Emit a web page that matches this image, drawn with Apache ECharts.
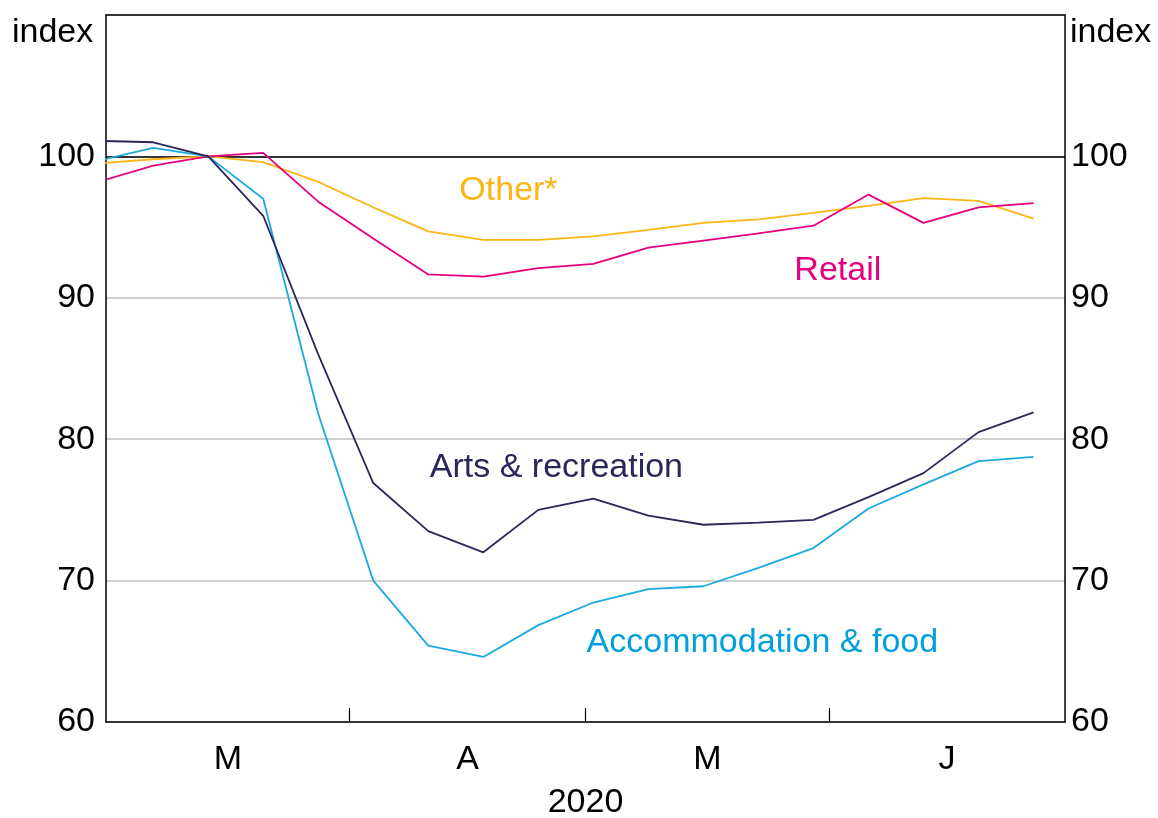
<!DOCTYPE HTML>
<html>
<head>
    <meta http-equiv="content-type" content="text/html;charset=utf-8">
    <script src="https://cdn.jsdelivr.net/npm/echarts@6/dist/echarts.min.js"></script>
    <title>Spending by industry</title>
    <style>
        html, body { margin: 0; padding: 0; background: #fff; }
        #main { width: 1158px; height: 818px; }
    </style>
</head>
<body>
<div id="main"></div>
<script>
    // weekly observations (week ending Saturday), index = 100 at 14 March
    var weeks = ['2020-02-29', '2020-03-07', '2020-03-14', '2020-03-21', '2020-03-28', '2020-04-04',
        '2020-04-11', '2020-04-18', '2020-04-25', '2020-05-02', '2020-05-09', '2020-05-16',
        '2020-05-23', '2020-05-30', '2020-06-06', '2020-06-13', '2020-06-20', '2020-06-27'];

    var arts   = [101.1, 101.0, 100, 95.8, 86.0, 76.9, 73.5, 72.0, 75.0, 75.8, 74.6, 73.95, 74.1, 74.3, 75.9, 77.6, 80.5, 81.9];
    var accom  = [99.7, 100.6, 100, 97.0, 81.8, 70.0, 65.4, 64.6, 66.85, 68.45, 69.4, 69.6, 70.9, 72.3, 75.1, 76.8, 78.45, 78.75];
    var retail = [98.2, 99.35, 100, 100.25, 96.8, 94.2, 91.65, 91.5, 92.1, 92.4, 93.55, 94.05, 94.55, 95.1, 97.3, 95.3, 96.4, 96.7];
    var other  = [99.5, 99.8, 100, 99.6, 98.2, 96.4, 94.7, 94.1, 94.1, 94.35, 94.8, 95.3, 95.55, 96.0, 96.5, 97.05, 96.85, 95.6];

    // x axis: days since 1 March 2020
    var monthStarts = [31, 61, 92];           // 1 Apr, 1 May, 1 Jun
    var monthMids = [15.5, 46, 76.5, 107];
    var monthLetters = ['M', 'A', 'M', 'J'];
    var yTicks = [60, 70, 80, 90, 100];

    // series labels, placed in data coordinates [day, index]
    var seriesLabels = [
        {text: 'Other*', at: [51.2, 97.6], color: '#FDB515'},
        {text: 'Retail', at: [93.1, 91.9], color: '#E6007E'},
        {text: 'Arts & recreation', at: [57.3, 78.0], color: '#2A2759'},
        {text: 'Accommodation & food', at: [83.5, 65.6], color: '#00A0DF'}
    ];

    var FONT = '"Liberation Sans", Arial, sans-serif';
    var FS = 34;
    var t0 = Date.UTC(2020, 2, 1);

    function toDay(s) {
        var p = s.split('-');
        return (Date.UTC(+p[0], +p[1] - 1, +p[2]) - t0) / 86400000;
    }

    function pairs(vals) {
        var out = [];
        for (var i = 0; i < weeks.length; i++) {
            out.push([toDay(weeks[i]), vals[i]]);
        }
        return out;
    }

    function yAxisCfg(pos) {
        return {
            type: 'value',
            position: pos,
            min: 60,
            max: 110,
            interval: 10,
            axisLine: {show: true, onZero: false, lineStyle: {color: '#000', width: 1.5}},
            axisTick: {show: false},
            splitLine: {show: pos === 'left', lineStyle: {color: '#c0c0c0', width: 1.5}},
            axisLabel: {
                margin: pos === 'left' ? 11 : 6,
                color: '#000',
                fontSize: FS,
                fontFamily: FONT,
                formatter: function (v) { return yTicks.indexOf(v) >= 0 ? String(v) : ''; }
            }
        };
    }

    function lineSeries(name, vals, color, extra) {
        var s = {
            name: name,
            type: 'line',
            data: pairs(vals),
            showSymbol: false,
            symbol: 'none',
            clip: true,
            lineStyle: {color: color, width: 1.8},
            z: 3
        };
        if (extra) { for (var k in extra) s[k] = extra[k]; }
        return s;
    }

    var myChart = echarts.init(document.getElementById('main'), null, {renderer: 'canvas'});
    var option = {
        animation: false,
        backgroundColor: '#fff',
        grid: {
            left: 106, right: 93, top: 15, bottom: 96,
            outerBoundsMode: 'none',
            containLabel: false,
            show: false
        },
        xAxis: [{
            type: 'value',
            min: 0,
            max: 122,
            axisLine: {show: true, onZero: false, lineStyle: {color: '#000', width: 1.5}},
            axisTick: {show: true, inside: true, length: 14, customValues: monthStarts,
                lineStyle: {color: '#000', width: 1.2}},
            splitLine: {show: false},
            axisLabel: {
                customValues: monthMids,
                margin: 21,
                color: '#000',
                fontSize: FS,
                fontFamily: FONT,
                formatter: function (v) { return monthLetters[monthMids.indexOf(v)]; }
            },
            name: '2020',
            nameLocation: 'middle',
            nameGap: 64,
            nameTextStyle: {color: '#000', fontSize: FS, fontFamily: FONT}
        }, {
            // top frame line
            type: 'value',
            position: 'top',
            min: 0,
            max: 122,
            axisLine: {show: true, onZero: false, lineStyle: {color: '#000', width: 1.5}},
            axisTick: {show: false},
            axisLabel: {show: false},
            splitLine: {show: false}
        }],
        yAxis: [yAxisCfg('left'), yAxisCfg('right')],
        graphic: [
            {type: 'text', left: 12, top: 16, style: {text: 'index', fill: '#000', font: FS + 'px ' + FONT}},
            {type: 'text', left: 1070, top: 16, style: {text: 'index', fill: '#000', font: FS + 'px ' + FONT}}
        ],
        series: [
            lineSeries('Other*', other, '#FDB515', {
                markLine: {
                    silent: true,
                    symbol: 'none',
                    label: {show: false},
                    lineStyle: {color: '#000', width: 1.5, type: 'solid'},
                    data: [{yAxis: 100}],
                    z: 2
                }
            }),
            lineSeries('Retail', retail, '#E6007E'),
            lineSeries('Accommodation & food', accom, '#1BA9E1'),
            lineSeries('Arts & recreation', arts, '#2A2759')
        ]
    };
    myChart.setOption(option);

    // put the series names next to their lines
    var labelGraphics = option.graphic.slice();
    seriesLabels.forEach(function (l) {
        var p = myChart.convertToPixel({gridIndex: 0}, l.at);
        labelGraphics.push({
            type: 'text',
            x: p[0], y: p[1],
            style: {text: l.text, fill: l.color, font: FS + 'px ' + FONT, align: 'center', verticalAlign: 'middle'},
            z: 10
        });
    });
    myChart.setOption({graphic: labelGraphics}, {replaceMerge: ['graphic']});
</script>
</body>
</html>
